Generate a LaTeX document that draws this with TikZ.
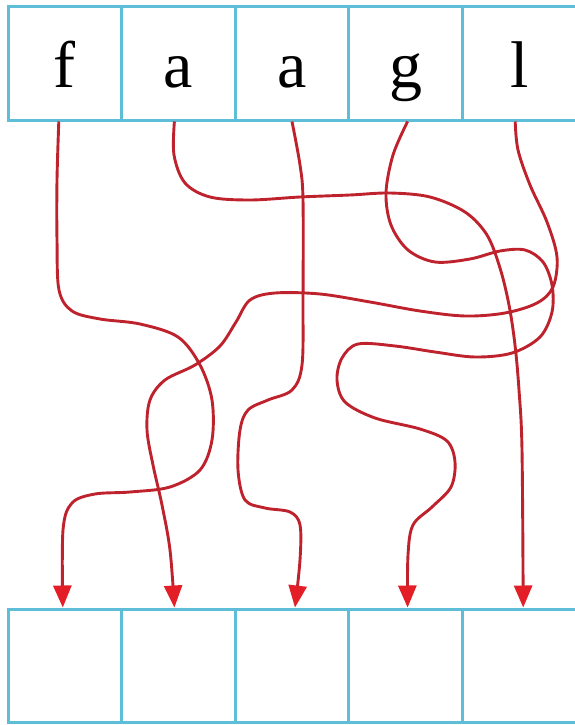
\documentclass[tikz,border=0pt]{standalone}
\usepackage{fontspec}
\setmainfont{Liberation Serif}
\usepackage{xcolor}
\usepackage{tikz}
\usetikzlibrary{arrows.meta}

\definecolor{cellblue}{RGB}{95,190,215}
\definecolor{wirered}{RGB}{190,35,45}
\definecolor{tipred}{RGB}{228,30,38}

\begin{document}
\begin{tikzpicture}[
  x=1pt, y=-1pt,
  cell/.style={draw=cellblue, line width=3pt, minimum width=113.6pt, minimum height=113pt,
               inner sep=0pt, text height=60pt, text depth=12pt, font=\fontsize{66}{70}\selectfont},
  wire/.style={draw=wirered, line width=2.9pt, line join=round,
               -{Triangle[length=22pt,width=18pt,color=tipred]}},
  wavy/.style={smooth, tension=0.55}
]
\useasboundingbox (0,0) rectangle (575,725);

%% Letter cells
\node[cell] (cf)  at (64.8,  63.5) {f};
\node[cell] (ca1) at (178.4, 63.5) {a};
\node[cell] (ca2) at (292.0, 63.5) {a};
\node[cell] (cg)  at (405.6, 63.5) {g};
\node[cell] (cl)  at (519.2, 63.5) {l};

%% Empty cells
\node[cell] (b1) at (64.8,  665.5) {};
\node[cell] (b2) at (178.4, 665.5) {};
\node[cell] (b3) at (292.0, 665.5) {};
\node[cell] (b4) at (405.6, 665.5) {};
\node[cell] (b5) at (519.2, 665.5) {};

%% f -> first cell
\draw[wire] plot[wavy] coordinates {([xshift=-6pt]cf.south) (57,180) (57,240) (59,290) (72,311)
  (100,319) (140,324) (178,337) (200,365) (212,400) (212,440) (200,470) (170,487) (130,492)
  (95,494) (72,503) (63,530) ([xshift=-2pt]b1.north)};

%% a -> last cell
\draw[wire] plot[wavy] coordinates {([xshift=-4pt]ca1.south) (174,155) (185,183) (210,197)
  (250,200) (300,197) (350,195) (390,193) (430,197) (465,212) (487,235) (500,268) (509,305)
  (515,345) (519,390) (522,450) ([xshift=4pt]b5.north)};

%% a -> middle cell
\draw[wire] plot[wavy] coordinates {(ca2.south) (300,165) (303,200) (303,300) (302,365)
  (292,390) (268,400) (248,410) (240,430) (238,470) (245,500) (265,508) (290,512) (300,525)
  (300,560) ([xshift=3pt]b3.north)};

%% g -> fourth cell
\draw[wire] plot[wavy] coordinates {([xshift=2pt]cg.south) (393,155) (386,193) (391,225)
  (408,250) (435,262) (470,259) (500,251) (525,250) (543,262) (552,285) (552,312) (540,337)
  (512,353) (475,357) (435,352) (395,346) (358,344) (342,358) (337,380) (345,402) (375,418)
  (420,429) (447,441) (455,462) (451,487) (432,507) (413,525) (408,555) ([xshift=2pt]b4.north)};

%% l -> second cell
\draw[wire] plot[wavy] coordinates {([xshift=-4pt]cl.south) (518,150) (530,185) (547,222)
  (557,257) (553,287) (537,303) (505,313) (465,316) (420,311) (370,302) (320,294) (275,293)
  (250,300) (236,322) (220,346) (195,365) (165,380) (150,400) (147,430) (153,465) (162,505)
  (170,550) ([xshift=-4pt]b2.north)};

\end{tikzpicture}
\end{document}
